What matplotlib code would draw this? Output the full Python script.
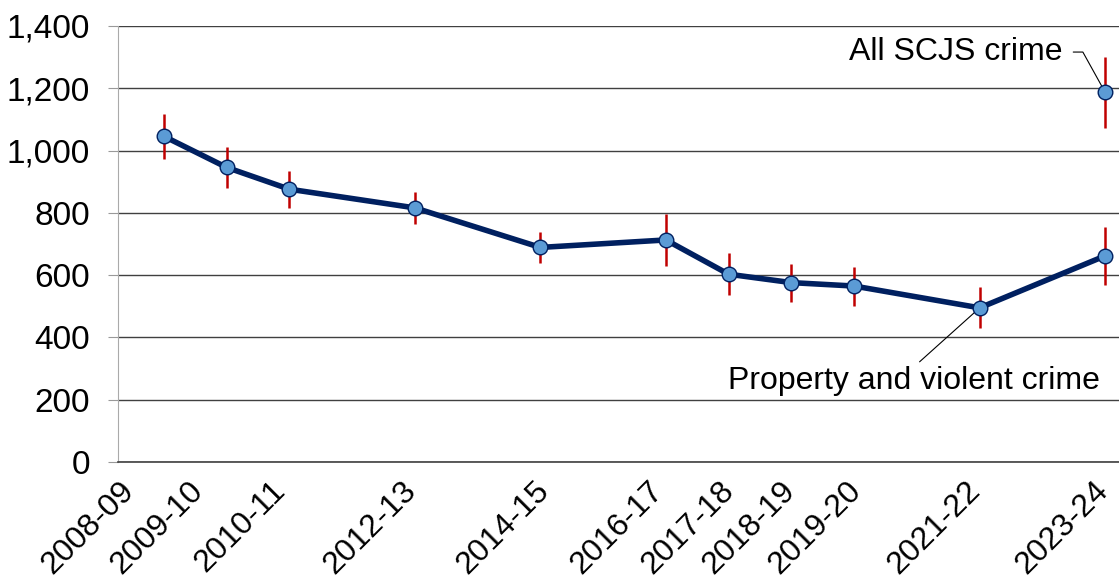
import matplotlib
matplotlib.use("Agg")
import matplotlib.pyplot as plt
import matplotlib.transforms as mtransforms
import numpy as np

plt.rcParams['font.family'] = ['Liberation Sans', 'DejaVu Sans']

years = ["2008-09", "2009-10", "2010-11", "2012-13", "2014-15", "2016-17",
         "2017-18", "2018-19", "2019-20", "2021-22", "2023-24"]
start_year = [2008, 2009, 2010, 2012, 2014, 2016, 2017, 2018, 2019, 2021, 2023]
prop_violent = [1046, 946, 876, 816, 689, 713, 603, 576, 565, 495, 662]
pv_low = [973, 880, 815, 763, 638, 629, 536, 515, 502, 429, 568]
pv_high = [1117, 1011, 934, 868, 739, 796, 670, 636, 625, 561, 756]

all_scjs_year = [2023]
all_scjs = [1187]
all_low = [1071]
all_high = [1299]

# horizontal nudges (pixels) for the rotated x labels, as placed in the original
label_shift = [-45, -39, -19, -14, -6, -18, -10, -11, -8, -14, -12]

navy = "#002060"
dot = "#5b9bd5"
red = "#c00000"

fig = plt.figure(figsize=(11.19, 5.83), dpi=100)
ax = fig.add_axes([118 / 1119, 1 - 462 / 583, 1 - 118 / 1119, (462 - 26) / 583])

pv = np.array(prop_violent)
ax.errorbar(start_year, pv, yerr=[pv - np.array(pv_low), np.array(pv_high) - pv],
            fmt='none', ecolor=red, elinewidth=1.8, capsize=0, zorder=3)
ax.plot(start_year, pv, color=navy, lw=4.0, zorder=4,
        marker='o', ms=10.5, mfc=dot, mec=navy, mew=1.0)

a = np.array(all_scjs)
ax.errorbar(all_scjs_year, a, yerr=[a - np.array(all_low), np.array(all_high) - a],
            fmt='none', ecolor=red, elinewidth=1.8, capsize=0, zorder=3)
ax.plot(all_scjs_year, a, ls='none', marker='o', ms=10.5, mfc=dot, mec=navy,
        mew=1.0, zorder=4)

ax.set_xlim(2007.27, 2023.22)
ax.set_ylim(0, 1400)
ax.set_yticks(range(0, 1401, 200))
ax.set_yticklabels([f"{v:,}" for v in range(0, 1401, 200)], fontsize=24)
ax.set_xticks(start_year)
ax.set_xticklabels([])
ax.tick_params(axis='x', length=0)
ax.tick_params(axis='y', length=7, color='#999999', pad=13)

# rotated category labels, drawn by hand so each can be nudged like the original
for yr, lab, dx in zip(start_year, years, label_shift):
    tr = ax.get_xaxis_transform() + mtransforms.ScaledTranslation(
        dx / 100, -14 / 100, fig.dpi_scale_trans)
    ax.text(yr, 0, lab, transform=tr, fontsize=23, rotation=45,
            ha='right', va='top', rotation_mode='anchor', clip_on=False)

ax.yaxis.grid(True, color='#404040', lw=1.0)
ax.set_axisbelow(True)
for s in ['top', 'right']:
    ax.spines[s].set_visible(False)
ax.spines['left'].set_color('#aaaaaa')
ax.spines['bottom'].set_color('#404040')
ax.spines['bottom'].set_linewidth(1.2)

ax.annotate("All SCJS crime", xy=(all_scjs_year[0], all_scjs[0]),
            xytext=(-31, 29), textcoords='offset points', ha='right', va='center',
            fontsize=23,
            arrowprops=dict(arrowstyle='-', color='black', lw=0.8,
                            relpos=(1, 0.5), shrinkA=6, shrinkB=0,
                            connectionstyle='angle,angleA=0,angleB=119,rad=0'))
ax.annotate("Property and violent crime", xy=(start_year[9], prop_violent[9]),
            xytext=(-47, -53), textcoords='offset points', ha='center', va='center',
            fontsize=23,
            arrowprops=dict(arrowstyle='-', color='black', lw=0.8,
                            relpos=(0.5, 1), shrinkA=2, shrinkB=0))

fig.savefig("out.png", dpi=100)
